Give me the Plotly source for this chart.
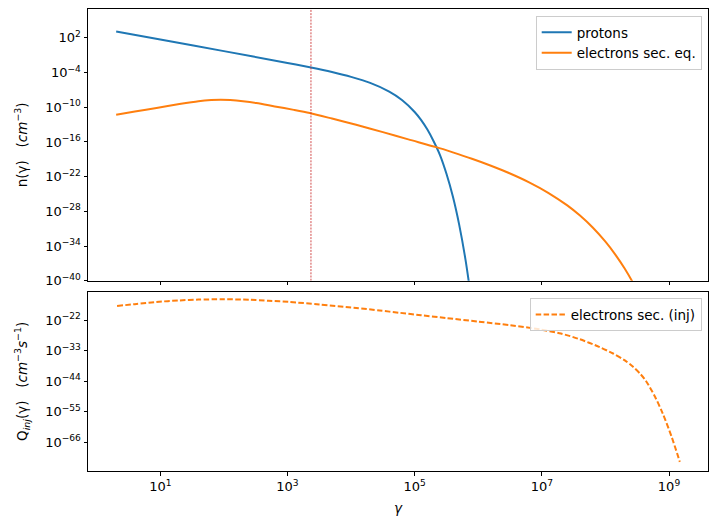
import numpy as np
import plotly.graph_objects as go
from plotly.subplots import make_subplots

# ---- data (log10 values) ----
proton_log_gamma = [0.306, 1.0, 2.0, 3.0, 3.37, 3.7, 4.0, 4.3, 4.6, 4.8, 5.0, 5.1, 5.2,
                    5.3, 5.4, 5.5, 5.6, 5.7, 5.8, 5.9]
proton_log_n = [3.1, 1.71, -0.29, -2.33, -3.13, -3.91, -4.74, -5.79, -7.29, -8.74, -10.81,
                -12.18, -13.86, -15.91, -18.3, -21.5, -25.4, -30.3, -36.4, -44.0]

esec_log_gamma = [0.306, 0.6, 0.94, 1.3, 1.6, 1.8, 1.95, 2.1, 2.3, 2.51, 2.8, 3.1, 3.35,
                  3.7, 4.08, 4.5, 4.9, 5.34, 5.6, 5.9, 6.2, 6.5, 6.8, 7.1, 7.4, 7.6, 7.8,
                  8.0, 8.15, 8.3, 8.45, 8.55]
esec_log_n = [-11.3, -10.75, -10.13, -9.45, -8.95, -8.75, -8.69, -8.75, -8.95, -9.26,
              -9.85, -10.45, -11.0, -11.95, -13.02, -14.3, -15.55, -16.9, -17.8, -18.91,
              -20.11, -21.45, -22.98, -24.79, -26.98, -28.74, -30.8, -33.25, -35.39,
              -37.85, -40.69, -42.84]

inj_log_gamma = [0.32, 0.6, 0.94, 1.3, 1.6, 1.99, 2.4, 2.7, 3.03, 3.5, 4.08, 4.45, 4.76,
                 5.1, 5.5, 6.0, 6.5, 6.97, 7.3, 7.59, 7.9, 8.12, 8.3, 8.43, 8.55, 8.64,
                 8.78, 8.90, 9.04, 9.17]
inj_log_q = [-16.84, -16.2, -15.4, -14.85, -14.55, -14.43, -14.6, -14.95, -15.4, -16.3,
             -17.56, -18.5, -19.3, -20.2, -21.2, -22.5, -23.8, -25.3, -26.8, -28.8,
             -31.6, -34.0, -36.4, -38.7, -41.4, -44.0, -49.6, -55.6, -64.0, -73.1]

vline_gamma = 2340.0

x_tick_exps = [1, 3, 5, 7, 9]
top_y_tick_exps = [2, -4, -10, -16, -22, -28, -34, -40]
bot_y_tick_exps = [-22, -33, -44, -55, -66]

x_range_log = [-0.137, 9.613]
top_y_range_log = [-40, 7.0]
bot_y_range_log = [-76.4, -11.7]

BLUE = "#1f77b4"
ORANGE = "#ff7f0e"
FONT = "DejaVu Sans"


def pw(vals):
    return list(np.power(10.0, np.array(vals, dtype=float)))


def sup(e):
    s = str(e).replace("-", "\u2212")
    return "10<sup>" + s + "</sup>"


fig = make_subplots(rows=2, cols=1, shared_xaxes=True, vertical_spacing=0.0,
                    row_heights=[0.6, 0.4])

fig.add_trace(go.Scatter(x=pw(proton_log_gamma), y=pw(proton_log_n), mode="lines",
                         name="protons",
                         line=dict(color=BLUE, width=2, shape="spline", smoothing=0.8),
                         legend="legend"), row=1, col=1)
fig.add_trace(go.Scatter(x=pw(esec_log_gamma), y=pw(esec_log_n), mode="lines",
                         name="electrons sec. eq.",
                         line=dict(color=ORANGE, width=2, shape="spline", smoothing=0.8),
                         legend="legend"), row=1, col=1)
fig.add_trace(go.Scatter(x=[vline_gamma, vline_gamma],
                         y=[10 ** top_y_range_log[0], 10 ** top_y_range_log[1]],
                         mode="lines", showlegend=False,
                         line=dict(color="rgb(200,30,30)", width=0.8, dash="2px,1.2px")),
              row=1, col=1)
fig.add_trace(go.Scatter(x=pw(inj_log_gamma), y=pw(inj_log_q), mode="lines",
                         name="electrons sec. (inj)",
                         line=dict(color=ORANGE, width=2, dash="5.5px,2.4px",
                                   shape="spline", smoothing=0.8),
                         legend="legend2"), row=2, col=1)

H_TOP, H_BOT = 9, 59
plot_h = 530 - H_TOP - H_BOT


def py2paper(py):
    return (530 - H_BOT - py) / plot_h


axis_common = dict(type="log", showline=True, linecolor="black", linewidth=1,
                   mirror=True, ticks="outside", ticklen=3.5, tickwidth=1,
                   tickcolor="black", showgrid=False, zeroline=False,
                   tickfont=dict(family=FONT, size=13, color="black"))

fig.update_xaxes(**axis_common, range=x_range_log,
                 tickvals=[10 ** e for e in x_tick_exps],
                 ticktext=[sup(e) for e in x_tick_exps])
fig.update_xaxes(showticklabels=False, row=1, col=1)
fig.update_xaxes(title=dict(text="<i>γ</i>", font=dict(family=FONT, size=13.5, color="black"),
                            standoff=10), row=2, col=1)

fig.update_yaxes(**axis_common)
fig.update_yaxes(range=top_y_range_log, tickvals=[10 ** e for e in top_y_tick_exps],
                 ticktext=[sup(e) for e in top_y_tick_exps],
                 title=dict(text="n(γ)   (<i>cm</i><sup>\u22123</sup>)",
                            font=dict(family=FONT, size=13.5, color="black"), standoff=14),
                 row=1, col=1)
fig.update_yaxes(range=bot_y_range_log, tickvals=[10 ** e for e in bot_y_tick_exps],
                 ticktext=[sup(e) for e in bot_y_tick_exps],
                 title=dict(text="Q<sub><i>inj</i></sub>(γ)   (<i>cm</i><sup>\u22123</sup><i>s</i><sup>\u22121</sup>)",
                            font=dict(family=FONT, size=13.5, color="black"), standoff=14),
                 row=2, col=1)

fig.update_layout(
    xaxis=dict(domain=[0, 1]),
    yaxis=dict(domain=[py2paper(280.7), 1.0]),
    yaxis2=dict(domain=[0.0, py2paper(291.7)]),
)

legend_style = dict(bgcolor="rgba(255,255,255,0.8)", bordercolor="#cccccc", borderwidth=1,
                    font=dict(family=FONT, size=13.5, color="black"),
                    xanchor="right", yanchor="top", tracegroupgap=0)

fig.update_layout(
    width=717, height=530,
    margin=dict(l=88, r=9, t=H_TOP, b=H_BOT, autoexpand=False),
    paper_bgcolor="white", plot_bgcolor="white",
    font=dict(family=FONT, size=13, color="black"),
    legend=dict(**legend_style, x=(701.7 - 88) / (708 - 88), y=py2paper(16)),
    legend2=dict(**legend_style, x=(701.7 - 88) / (708 - 88), y=py2paper(298.3)),
    showlegend=True,
)

fig.write_html("out.html")
